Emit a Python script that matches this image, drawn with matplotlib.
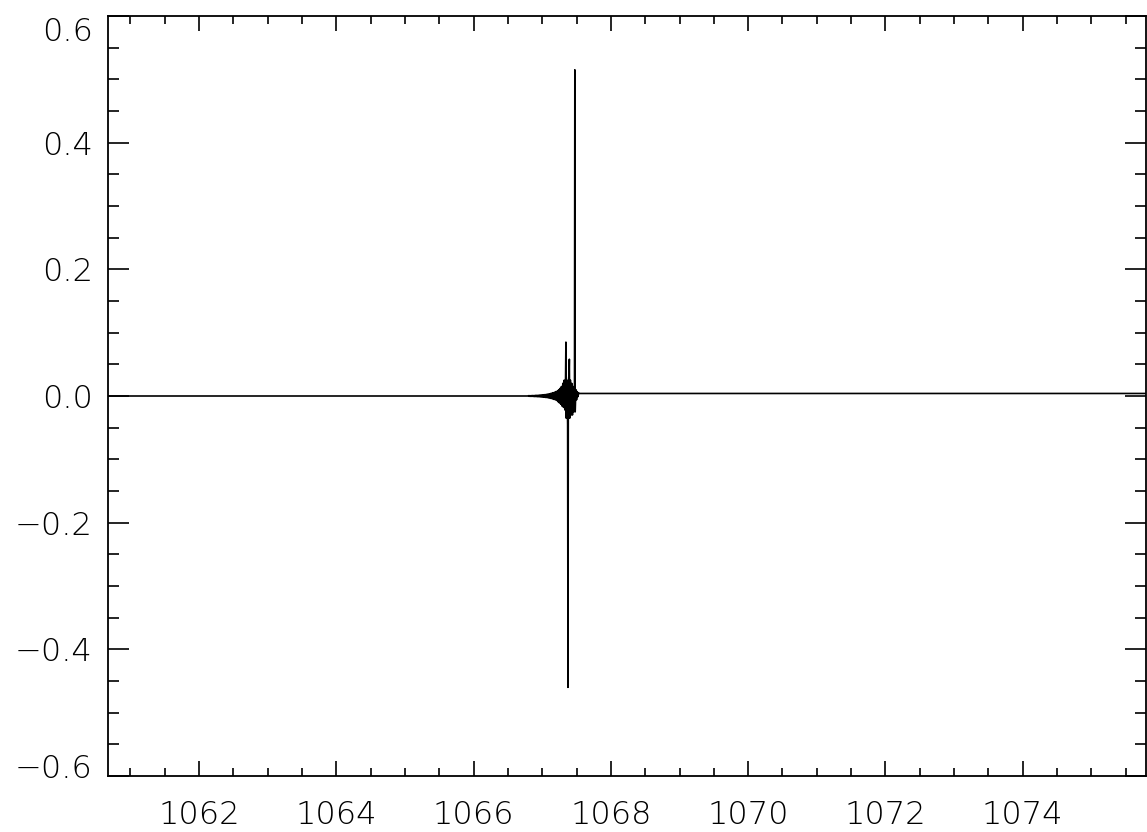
import numpy as np
import matplotlib
matplotlib.use("Agg")
import matplotlib.pyplot as plt
from matplotlib.ticker import MultipleLocator
from matplotlib.transforms import ScaledTranslation

# Sinal (comprimento de onda x amplitude)
base_esq_x = [1060.67, 1062.0, 1064.0, 1066.0, 1066.5, 1066.79]
base_esq_y = [0.0, 0.0, 0.0, 0.0, 0.0, 0.0]

surto_x = [1066.80, 1066.81, 1066.82, 1066.83, 1066.84, 1066.85, 1066.86, 1066.87,
           1066.88, 1066.89, 1066.90, 1066.91, 1066.92, 1066.93, 1066.94, 1066.95,
           1066.96, 1066.97, 1066.98, 1066.99, 1067.00, 1067.01, 1067.02, 1067.03,
           1067.04, 1067.05, 1067.06, 1067.07, 1067.08, 1067.09, 1067.10, 1067.11,
           1067.12, 1067.13, 1067.14, 1067.15, 1067.16, 1067.17, 1067.18, 1067.19,
           1067.20, 1067.21, 1067.22, 1067.23, 1067.24, 1067.25, 1067.26, 1067.27,
           1067.28, 1067.29, 1067.30, 1067.31, 1067.32, 1067.33, 1067.34, 1067.345,
           1067.35, 1067.36, 1067.37, 1067.375, 1067.38, 1067.39, 1067.395, 1067.40,
           1067.41, 1067.42, 1067.43, 1067.44, 1067.45, 1067.46, 1067.47, 1067.475,
           1067.48, 1067.49, 1067.50, 1067.51, 1067.52, 1067.53, 1067.54]
surto_y = [0.0005, -0.0005, 0.0006, -0.0006, 0.0007, -0.0007, 0.0008, -0.0008,
           0.0009, -0.0009, 0.0010, -0.0010, 0.0011, -0.0011, 0.0012, -0.0012,
           0.0014, -0.0014, 0.0016, -0.0016, 0.0018, -0.0018, 0.0020, -0.0020,
           0.0023, -0.0023, 0.0026, -0.0026, 0.0030, -0.0030, 0.0034, -0.0034,
           0.0040, -0.0040, 0.0046, -0.0046, 0.0053, -0.0053, 0.006, -0.006,
           0.007, -0.007, 0.008, -0.009, 0.010, -0.011, 0.012, -0.013,
           0.015, -0.016, 0.020, -0.018, 0.025, -0.022, 0.030, 0.085,
           -0.035, 0.025, -0.045, -0.460, 0.020, 0.035, 0.058, -0.035,
           0.025, -0.030, 0.020, -0.030, 0.015, -0.025, 0.010, 0.515,
           -0.025, 0.010, -0.006, 0.007, -0.001, 0.005, 0.004]

base_dir_x = [1067.55, 1068.0, 1069.0, 1070.0, 1071.0, 1072.0, 1073.0, 1074.0, 1075.80]
base_dir_y = [0.004, 0.004, 0.004, 0.004, 0.004, 0.004, 0.004, 0.004, 0.004]

x = np.array(base_esq_x + surto_x + base_dir_x)
y = np.array(base_esq_y + surto_y + base_dir_y)

plt.rcParams['font.family'] = ['DejaVu Sans']
plt.rcParams['font.weight'] = 'light'

fig = plt.figure(figsize=(11.47, 8.32), dpi=100)
ax = fig.add_axes([108 / 1147, 1 - 776 / 832, (1146 - 108) / 1147, 760 / 832])

ax.plot(x, y, color='black', linewidth=1.2)

ax.set_xlim(1060.673, 1075.797)
ax.set_ylim(-0.6, 0.6)

ax.xaxis.set_major_locator(MultipleLocator(2))
ax.xaxis.set_minor_locator(MultipleLocator(0.5))
ax.yaxis.set_major_locator(MultipleLocator(0.2))
ax.yaxis.set_minor_locator(MultipleLocator(0.05))
ax.yaxis.set_major_formatter(plt.FuncFormatter(lambda v, p: f"{v:.1f}".replace('-', '\u2212')))

ax.tick_params(which='both', direction='in', top=True, right=True, width=1.2,
               colors='black', labelsize=23)
ax.tick_params(axis='x', which='major', length=11, pad=17)
ax.tick_params(axis='x', which='minor', length=6)
ax.tick_params(axis='y', which='major', length=15, pad=11)
ax.tick_params(axis='y', which='minor', length=8)

for lado in ax.spines.values():
    lado.set_linewidth(1.3)

# rótulos das pontas do eixo y ficam deslocados para dentro, como no original
fig.canvas.draw()
for tick in ax.yaxis.get_major_ticks():
    loc = tick.get_loc()
    if abs(loc - 0.6) < 1e-6:
        tick.label1.set_transform(tick.label1.get_transform()
                                  + ScaledTranslation(0, -0.13, fig.dpi_scale_trans))
    elif abs(loc + 0.6) < 1e-6:
        tick.label1.set_transform(tick.label1.get_transform()
                                  + ScaledTranslation(0, 0.10, fig.dpi_scale_trans))

fig.savefig('out.png', dpi=100)
